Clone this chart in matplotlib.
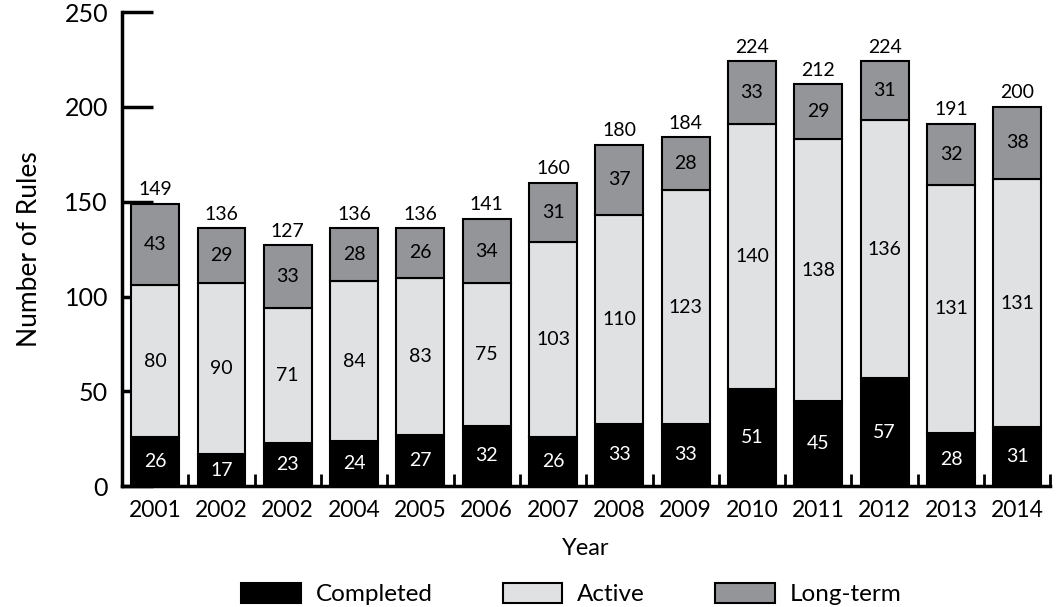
import numpy as np
import matplotlib.pyplot as plt

plt.rcParams['font.family'] = ['Lato', 'DejaVu Sans']

years = ['2001', '2002', '2002', '2004', '2005', '2006', '2007',
         '2008', '2009', '2010', '2011', '2012', '2013', '2014']
completed = [26, 17, 23, 24, 27, 32, 26, 33, 33, 51, 45, 57, 28, 31]
active = [80, 90, 71, 84, 83, 75, 103, 110, 123, 140, 138, 136, 131, 131]
long_term = [43, 29, 33, 28, 26, 34, 31, 37, 28, 33, 29, 31, 32, 38]

c = np.array(completed)
a = np.array(active)
l = np.array(long_term)
totals = c + a + l
x = np.arange(len(years))

fig = plt.figure(figsize=(10.6, 6.07), dpi=100)
ax = fig.add_axes([0.115, 0.199, 0.876, 0.781])

w = 0.72
kw = dict(width=w, edgecolor='black', linewidth=1.5, zorder=3)
ax.bar(x, c, color='black', label='Completed', **kw)
ax.bar(x, a, bottom=c, color='#e0e1e3', label='Active', **kw)
ax.bar(x, l, bottom=c + a, color='#939598', label='Long-term', **kw)

# segment values inside the bars, totals on top
for i in x:
    ax.text(i, c[i] / 2, str(c[i]), ha='center', va='center', color='white', fontsize=14, zorder=4)
    ax.text(i, c[i] + a[i] / 2, str(a[i]), ha='center', va='center', color='black', fontsize=14, zorder=4)
    ax.text(i, c[i] + a[i] + l[i] / 2, str(l[i]), ha='center', va='center', color='black', fontsize=14, zorder=4)
    ax.text(i, totals[i] + 3, str(totals[i]), ha='center', va='bottom', color='black', fontsize=14, zorder=4)

ax.set_xlim(-0.5, len(years) - 0.5)
ax.set_ylim(0, 250)
ax.set_yticks([0, 50, 100, 150, 200, 250])
ax.set_xticks(x)
ax.set_xticklabels(years)
ax.set_xticks(np.arange(-0.5, len(years), 1.0), minor=True)

ax.spines['top'].set_visible(False)
ax.spines['right'].set_visible(False)
ax.spines['left'].set_linewidth(2.5)
ax.spines['bottom'].set_linewidth(2.5)

ax.tick_params(axis='y', direction='in', length=22, width=2.5, labelsize=18, pad=10)
ax.tick_params(axis='x', which='major', length=0, labelsize=16.5, pad=10)
ax.tick_params(axis='x', which='minor', direction='in', length=9, width=2)

ax.set_xlabel('Year', fontsize=17, labelpad=12)
ax.set_ylabel('Number of Rules', fontsize=19, labelpad=16)

ax.legend(loc='upper center', bbox_to_anchor=(0.484, -0.157), ncol=3, frameon=False,
          fontsize=17.5, handlelength=2.45, handleheight=0.9, handletextpad=0.6,
          columnspacing=2.9)

fig.savefig('out.png', dpi=100)
